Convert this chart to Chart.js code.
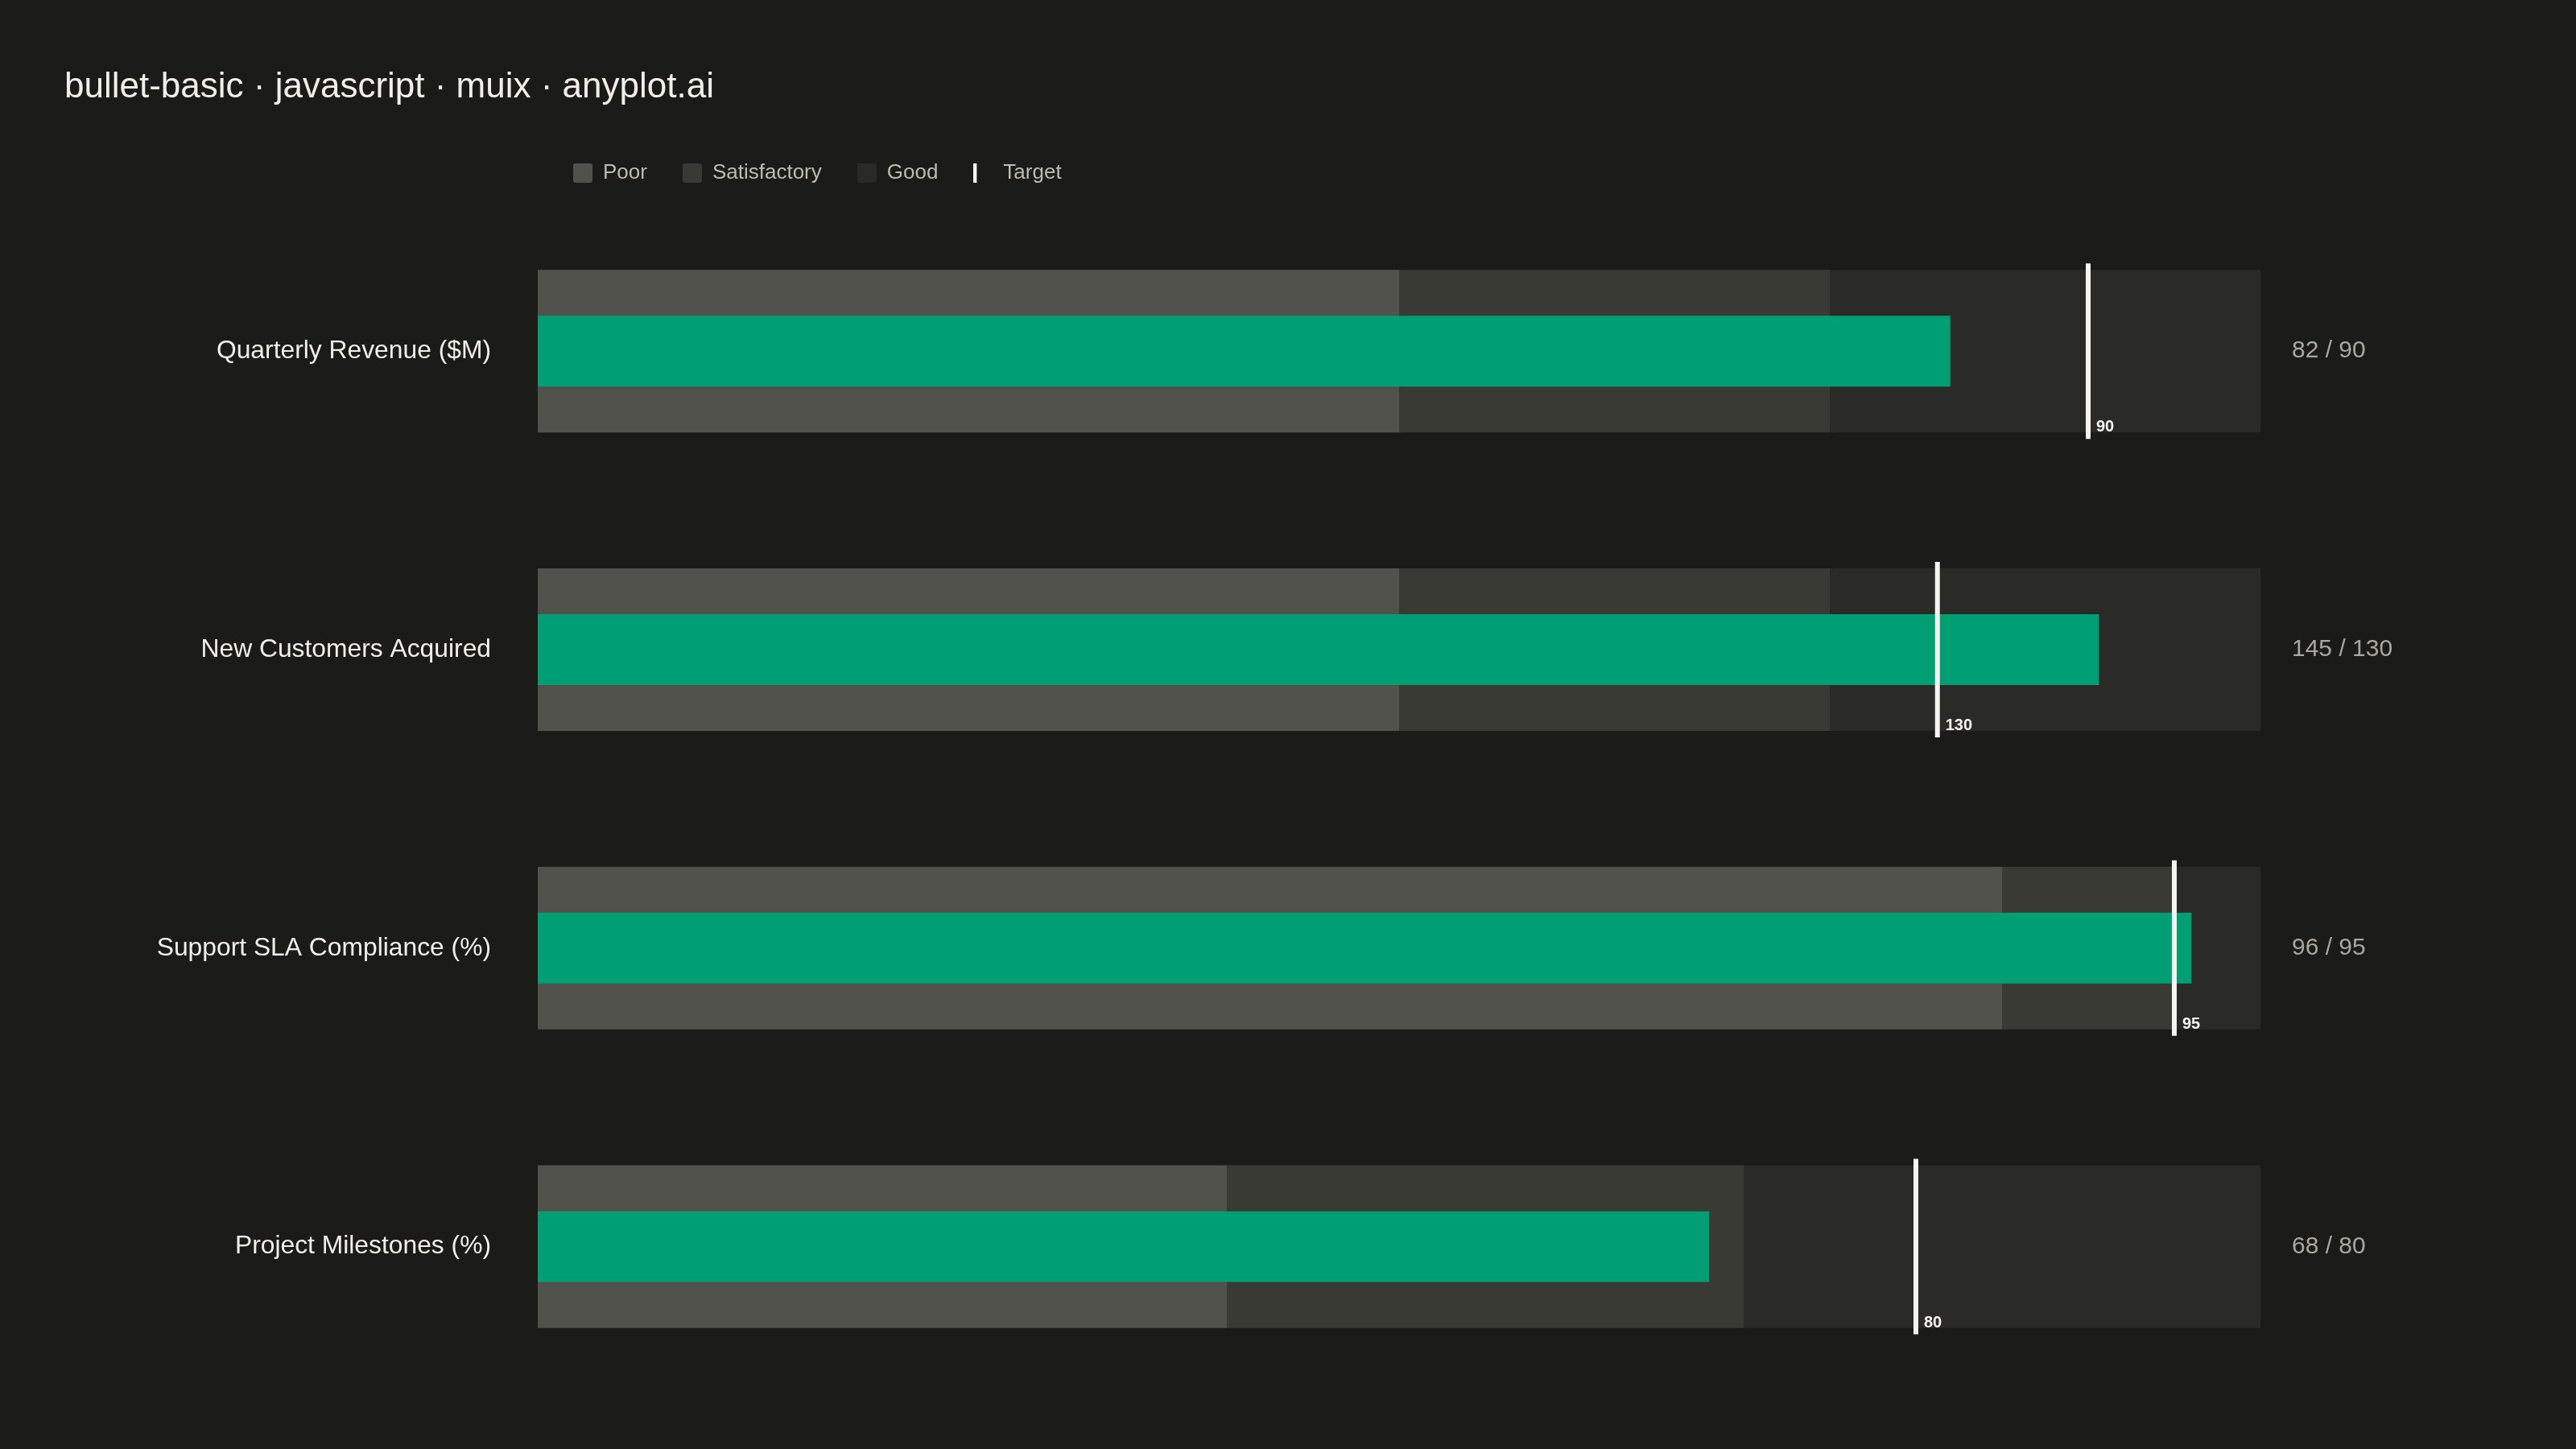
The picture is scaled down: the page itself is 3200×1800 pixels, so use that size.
<!DOCTYPE html>
<html>
<head>
<meta charset="utf-8">
<title>bullet-basic</title>
<script src="https://cdn.jsdelivr.net/npm/chart.js@4.4.1/dist/chart.umd.min.js"></script>
<style>
  html, body { margin: 0; padding: 0; background: #1b1b17; }
  #wrap { width: 3200px; height: 1800px; position: relative; }
</style>
</head>
<body>
<div id="wrap"><canvas id="bulletChart"></canvas></div>
<script>
const categories = [
  'Quarterly Revenue ($M)',
  'New Customers Acquired',
  'Support SLA Compliance (%)',
  'Project Milestones (%)'
];
const values = [82, 145, 96, 68];
const targets = [90, 130, 95, 80];
const poorMax = [50, 80, 85, 40];
const satisfactoryMax = [75, 120, 95, 70];
const rangeMax = [100, 160, 100, 100];
const legendNames = ['Poor', 'Satisfactory', 'Good', 'Target'];

const POOR = '#52524c';
const SATISFACTORY = '#3a3a35';
const GOOD = '#2a2a26';
const VALUE = '#009e73';
const TARGET = '#f5f4ee';
const LEGEND_TEXT = '#bcbbb2';

// every row has its own range, so plot everything as % of that row's max
const pct = (list) => list.map((v, i) => v / rangeMax[i] * 100);
const poorPct = pct(poorMax);
const satPct = pct(satisfactoryMax);
const valuePct = pct(values);
const targetPct = pct(targets);

Chart.defaults.font.family = '"Liberation Sans", Arial, Helvetica, sans-serif';

function swatch(color) {
  const c = document.createElement('canvas');
  c.width = 24; c.height = 24;
  const g = c.getContext('2d');
  g.fillStyle = color;
  g.beginPath();
  if (g.roundRect) g.roundRect(0, 0, 24, 24, 3); else g.rect(0, 0, 24, 24);
  g.fill();
  return c;
}
function targetSwatch() {
  const c = document.createElement('canvas');
  c.width = 24; c.height = 24;
  const g = c.getContext('2d');
  g.fillStyle = TARGET;
  g.fillRect(0, 0, 4, 24);
  return c;
}
const legendIcons = [swatch(POOR), swatch(SATISFACTORY), swatch(GOOD), targetSwatch()];

const targetLabels = {
  id: 'targetLabels',
  afterDatasetsDraw(chart) {
    const { ctx } = chart;
    const marks = chart.getDatasetMeta(4).data;
    const bands = chart.getDatasetMeta(0).data;
    ctx.save();
    ctx.fillStyle = TARGET;
    ctx.font = 'bold 20px "Liberation Sans", Arial, sans-serif';
    ctx.textAlign = 'left';
    ctx.textBaseline = 'alphabetic';
    marks.forEach((pt, i) => {
      const band = bands[i];
      ctx.fillText(String(targets[i]), pt.x + 10, band.y + band.height / 2 - 1);
    });
    ctx.restore();
  }
};

// label padding should not eat into the plot height
const noEdgePadding = (s) => { s.paddingTop = 0; s.paddingBottom = 0; };

const bandBar = { barPercentage: 0.545, categoryPercentage: 1, grouped: false, borderWidth: 0 };

const ctx = document.getElementById('bulletChart').getContext('2d');
const bulletChart = new Chart(ctx, {
  type: 'bar',
  data: {
    labels: categories,
    datasets: [
      { label: 'Poor', data: poorPct.map((p) => [0, p]), backgroundColor: POOR, order: 5, ...bandBar },
      { label: 'Satisfactory', data: poorPct.map((p, i) => [p, satPct[i]]), backgroundColor: SATISFACTORY, order: 4, ...bandBar },
      { label: 'Good', data: satPct.map((s) => [s, 100]), backgroundColor: GOOD, order: 3, ...bandBar },
      {
        label: 'Actual',
        data: valuePct,
        backgroundColor: VALUE,
        barPercentage: 0.237,
        categoryPercentage: 1,
        grouped: false,
        borderWidth: 0,
        order: 2
      },
      {
        type: 'line',
        label: 'Target',
        indexAxis: 'y',
        data: targetPct,
        showLine: false,
        pointStyle: 'line',
        pointRotation: 90,
        pointRadius: (c) => {
          const ys = c.chart.scales.y;
          if (!ys) return 0;
          return Math.abs(ys.getPixelForValue(1) - ys.getPixelForValue(0)) * 0.294;
        },
        pointBorderWidth: 6,
        pointBorderColor: TARGET,
        pointBackgroundColor: TARGET,
        borderColor: TARGET,
        order: 0
      }
    ]
  },
  options: {
    indexAxis: 'y',
    responsive: true,
    maintainAspectRatio: false,
    animation: false,
    events: [],
    layout: { padding: { left: 80, right: 0, top: 0, bottom: 66 } },
    scales: {
      x: {
        position: 'top',
        min: 0,
        max: 100,
        ticks: { display: false },
        grid: { display: false, drawTicks: false },
        border: { display: false },
        afterFit(s) { s.height = 13; }
      },
      y: {
        type: 'category',
        position: 'left',
        offset: true,
        grid: { display: false, drawTicks: false },
        border: { display: false },
        ticks: { color: '#f0efe8', font: { size: 31.8 }, padding: 58 },
        afterFit(s) { s.width = 588; noEdgePadding(s); }
      },
      y2: {
        type: 'category',
        position: 'right',
        labels: categories,
        offset: true,
        grid: { display: false, drawTicks: false },
        border: { display: false },
        ticks: {
          color: '#a8a79f',
          font: { size: 30 },
          padding: 39,
          callback: (v, i) => `${values[i]} / ${targets[i]}`
        },
        afterFit(s) { s.width = 392; noEdgePadding(s); }
      }
    },
    plugins: {
      title: {
        display: true,
        text: 'bullet-basic · javascript · muix · anyplot.ai',
        align: 'start',
        color: '#f0efe8',
        font: { size: 44, weight: 'normal' },
        padding: { top: 82, bottom: 23 }
      },
      legend: {
        display: true,
        position: 'top',
        align: 'start',
        fullSize: false,
        labels: {
          usePointStyle: true,
          boxWidth: 24,
          boxHeight: 24,
          padding: 44,
          color: LEGEND_TEXT,
          font: { size: 26 },
          generateLabels: () => legendNames.map((name, i) => ({
            text: name,
            pointStyle: legendIcons[i],
            fillStyle: 'transparent',
            strokeStyle: 'transparent',
            fontColor: LEGEND_TEXT,
            lineWidth: 0,
            hidden: false,
            datasetIndex: i
          }))
        }
      },
      tooltip: { enabled: false }
    }
  },
  plugins: [targetLabels]
});
</script>
</body>
</html>
